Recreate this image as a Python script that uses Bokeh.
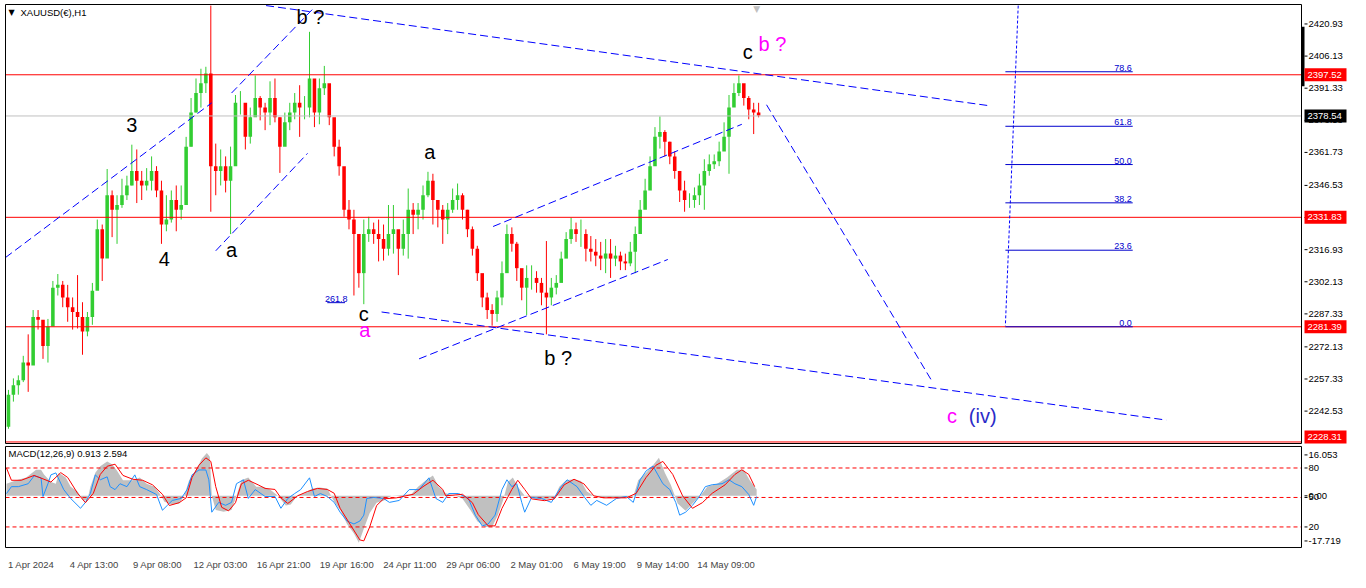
from bokeh.plotting import figure
from bokeh.layouts import column
from bokeh.models import Range1d, FixedTicker, Label, ColumnDataSource
from bokeh.embed import file_html
from bokeh.resources import INLINE
from bokeh.core.properties import value

FONT = "Liberation Sans"

# ---------------- data ----------------
symbol_title = "XAUUSD(€),H1"
macd_title = "MACD(12,26,9) 0.913 2.594"

bars_per_candle = 5          # each drawn candle groups 5 hourly bars
first_open = 2235.3
high = [2252.3, 2257.6, 2259.0, 2268.0, 2277.9, 2289.1, 2289.1, 2283.7, 2285.0, 2302.5,
        2305.7, 2302.5, 2300.7, 2294.9, 2305.2, 2292.7, 2288.2, 2301.6, 2330.8, 2328.5,
        2354.1, 2344.2, 2342.0, 2349.6, 2351.0, 2365.3, 2363.1, 2353.2, 2354.5, 2359.9,
        2355.4, 2348.7, 2342.0, 2344.2, 2346.5, 2346.5, 2368.9, 2386.8, 2395.8, 2400.3,
        2401.2, 2429.4, 2365.8, 2363.1, 2359.9, 2364.4, 2388.2, 2390.0, 2377.9, 2382.4,
        2397.2, 2387.7, 2384.6, 2394.5, 2395.8, 2377.9, 2380.1, 2384.6, 2389.1, 2392.7,
        2387.7, 2417.3, 2391.3, 2395.8, 2401.6, 2389.1, 2375.6, 2367.6, 2351.9, 2339.8,
        2335.3, 2316.0, 2330.8, 2332.1, 2329.4, 2330.8, 2328.5, 2337.5, 2337.5, 2325.0,
        2330.8, 2345.1, 2338.4, 2338.4, 2346.5, 2352.8, 2351.9, 2339.8, 2337.5, 2338.4,
        2345.1, 2347.4, 2342.9, 2335.3, 2327.6, 2318.7, 2302.5, 2297.1, 2291.8, 2298.0,
        2311.5, 2328.5, 2327.2, 2320.5, 2307.0, 2309.7, 2309.7, 2307.0, 2303.9, 2320.9,
        2303.9, 2305.2, 2316.0, 2325.0, 2331.7, 2329.4, 2330.8, 2326.3, 2323.2, 2321.8,
        2320.5, 2321.8, 2321.8, 2318.7, 2316.0, 2315.1, 2320.5, 2327.6, 2339.8, 2349.6,
        2359.9, 2373.4, 2378.3, 2372.0, 2366.7, 2362.2, 2353.2, 2348.7, 2342.9, 2345.6,
        2351.9, 2358.6, 2360.8, 2360.8, 2366.7, 2375.6, 2388.2, 2393.6, 2397.2, 2392.7,
        2387.7, 2384.6, 2384.6]
low = [2234.4, 2246.9, 2250.1, 2255.9, 2251.4, 2274.7, 2280.1, 2266.6, 2264.9, 2287.3,
       2295.8, 2290.4, 2283.7, 2280.1, 2280.6, 2268.5, 2277.0, 2282.3, 2314.2, 2302.5,
       2332.1, 2322.7, 2319.6, 2336.2, 2339.8, 2346.5, 2338.4, 2339.8, 2344.2, 2344.2,
       2341.1, 2319.6, 2325.4, 2329.4, 2325.4, 2330.8, 2337.5, 2364.4, 2380.1, 2382.4,
       2389.1, 2334.4, 2342.0, 2346.5, 2343.3, 2324.1, 2359.9, 2379.2, 2363.1, 2365.8,
       2380.1, 2376.5, 2372.0, 2374.3, 2375.6, 2352.3, 2365.8, 2372.0, 2377.0, 2368.9,
       2377.0, 2377.9, 2373.4, 2374.7, 2388.2, 2374.3, 2359.9, 2351.0, 2332.1, 2326.3,
       2295.8, 2299.4, 2291.8, 2320.5, 2319.6, 2311.5, 2311.9, 2314.2, 2315.1, 2305.2,
       2314.2, 2312.8, 2324.1, 2326.3, 2330.8, 2341.1, 2328.5, 2327.2, 2319.6, 2324.1,
       2333.9, 2335.3, 2330.8, 2322.7, 2314.2, 2302.5, 2290.4, 2285.0, 2281.9, 2283.7,
       2291.3, 2307.0, 2316.0, 2302.5, 2293.6, 2286.8, 2298.5, 2297.1, 2291.3, 2277.9,
       2291.3, 2296.3, 2306.1, 2316.0, 2319.6, 2320.5, 2318.2, 2311.5, 2311.5, 2309.3,
       2307.5, 2306.1, 2303.9, 2309.3, 2307.5, 2307.5, 2309.3, 2306.1, 2326.3, 2336.2,
       2347.4, 2356.3, 2363.5, 2359.9, 2356.3, 2349.6, 2338.9, 2334.4, 2336.2, 2336.2,
       2337.5, 2335.3, 2351.0, 2354.1, 2355.4, 2363.1, 2351.9, 2384.6, 2387.7, 2383.3,
       2377.0, 2370.2, 2377.9]
close = [2250.1, 2254.5, 2256.8, 2264.9, 2263.5, 2285.9, 2284.6, 2272.5, 2281.5, 2299.4,
         2300.7, 2294.9, 2290.4, 2288.2, 2285.9, 2279.2, 2285.9, 2298.0, 2326.3, 2312.8,
         2342.0, 2335.3, 2337.5, 2342.0, 2346.5, 2353.2, 2348.7, 2346.5, 2348.7, 2353.2,
         2344.2, 2328.5, 2330.8, 2339.8, 2335.3, 2337.5, 2364.4, 2380.1, 2389.1, 2393.6,
         2398.1, 2355.4, 2353.2, 2355.4, 2348.7, 2355.4, 2384.6, 2384.6, 2368.9, 2377.9,
         2386.8, 2382.4, 2380.1, 2386.8, 2377.9, 2364.4, 2375.6, 2380.1, 2384.6, 2382.4,
         2382.4, 2395.8, 2380.1, 2391.3, 2393.6, 2377.9, 2364.4, 2355.4, 2335.3, 2330.8,
         2324.1, 2306.1, 2324.1, 2326.3, 2324.1, 2321.8, 2317.3, 2324.1, 2326.3, 2317.3,
         2324.1, 2335.3, 2333.0, 2335.3, 2342.0, 2348.7, 2339.8, 2335.3, 2330.8, 2335.3,
         2339.8, 2342.0, 2335.3, 2326.3, 2317.3, 2306.1, 2294.9, 2289.1, 2287.3, 2294.9,
         2306.1, 2324.1, 2319.6, 2308.4, 2299.4, 2303.9, 2303.9, 2301.6, 2297.1, 2294.9,
         2299.4, 2301.6, 2312.8, 2321.8, 2326.3, 2324.1, 2324.1, 2317.3, 2316.0, 2314.2,
         2312.8, 2315.1, 2312.8, 2314.2, 2311.5, 2310.6, 2316.0, 2324.1, 2335.3, 2344.2,
         2355.4, 2368.9, 2371.1, 2366.7, 2359.9, 2353.2, 2344.2, 2339.8, 2339.8, 2342.0,
         2346.5, 2353.2, 2356.3, 2357.7, 2362.2, 2368.9, 2382.4, 2389.1, 2393.6, 2386.8,
         2381.5, 2380.1, 2378.8]

price_ticks = [2420.93, 2406.13, 2391.33, 2376.53, 2361.73, 2346.53, 2331.73,
               2316.93, 2302.13, 2287.33, 2272.13, 2257.33, 2242.53]
red_levels = [2397.52, 2331.83, 2281.39, 2228.31]
bid_price = 2378.54

# dashed trend lines (bar index, price)
trend_x0 = [-1, 228, 212, 263, 380, 418, 493, 770]
trend_y0 = [2313.3, 2389.1, 2316.4, 2429.4, 2288.2, 2266.6, 2327.6, 2383.7]
trend_x1 = [208, 312, 305, 995, 1175, 670, 745, 937]
trend_y1 = [2384.6, 2428.6, 2361.3, 2383.3, 2238.4, 2312.4, 2374.7, 2256.8]
# dotted near-vertical line
dot_x = [1025, 1012]
dot_y = [2429.4, 2281.9]

# fibonacci retracement
fib_low, fib_high = 2281.39, 2430.9
fib_ratios = [0.0, 23.6, 38.2, 50.0, 61.8, 78.6]
fib_x0, fib_x1 = 1012, 1141
ext_label, ext_x, ext_y = "261.8", 334, 2293.0

# Elliott wave labels
wave_text = ["3", "4", "b ?", "a", "a", "c", "a", "b ?", "c", "b ?", "c", "(iv)"]
wave_x = [127, 160, 308, 228, 429, 362, 363, 559, 751, 776, 958, 989]
wave_y = [2374.3, 2312.8, 2424.1, 2316.9, 2361.7, 2287.3, 2280.1, 2267.1, 2407.9, 2411.5, 2240.2, 2240.2]
wave_color = ["#000000", "#000000", "#000000", "#000000", "#000000", "#000000",
              "#FF00FF", "#000000", "#000000", "#FF00FF", "#FF00FF", "#2B2BC8"]

# time axis
date_pos = [0, 64, 128, 192, 256, 320, 384, 448, 512, 576, 640, 704]
date_labels = ["1 Apr 2024", "4 Apr 13:00", "9 Apr 08:00", "12 Apr 03:00", "16 Apr 21:00",
               "19 Apr 16:00", "24 Apr 11:00", "29 Apr 06:00", "2 May 01:00", "6 May 19:00",
               "9 May 14:00", "14 May 09:00"]

# MACD main (histogram)
hist_x = [0, 10, 20, 30, 35, 38, 45, 50, 53, 60, 65, 72, 78, 82, 85, 90, 95, 102, 107, 112,
          118, 128, 135, 142, 150, 155, 160, 167, 175, 180, 185, 192, 198, 203, 206, 208, 212, 220, 228, 233,
          238, 245, 253, 260, 267, 275, 283, 288, 295, 302, 310, 317, 325, 332, 338, 345, 352, 357, 362, 368,
          375, 382, 390, 400, 410, 417, 425, 432, 438, 445, 455, 462, 470, 477, 485, 492, 498, 503, 508, 513,
          518, 525, 535, 545, 555, 560, 567, 575, 582, 588, 595, 605, 620, 635, 640, 648, 655, 661, 667, 673,
          680, 688, 695, 703, 710, 720, 730, 740, 747, 753, 760]
hist_v = [4.7, 6.1, 7.2, 10.2, 10.2, 8.4, 5.4, 4.7, 9.1, 7.2, 3.6, 1.7, -1.9, -1.5, 3.6, 9.1, 11.6, 13.5, 12.4, 9.8,
          6.1, 6.1, 7.2, 4.7, 3.6, 1.0, -2.3, -3.4, -3.0, 0, 6.1, 10.2, 14.6, 16.8, 15.3, 0, -5.6, -6.3, -5.6, 0,
          6.1, 7.2, 3.6, 3.6, 2.5, 0, -3.8, -3.4, 0.3, 1.0, 2.9, 3.3, 2.9, -2.3, -5.6, -11.1, -14.8, -18.4, -12.9, -6.7,
          -2.7, -1.9, 0, 0.3, 0.6, 3.6, 6.1, 8.0, 3.6, 1.0, 0, -1.2, -5.6, -10.0, -12.2, -12.2, -7.4, -1.9, 5.4, 7.2,
          3.6, 0, -1.2, -1.5, -0.8, 3.6, 6.1, 6.5, 5.8, 1.7, 0, -0.8, -0.8, -0.4, 6.1, 9.1, 12.0, 14.9, 9.1, 4.3,
          -3.0, -5.9, -3.0, 0, 3.6, 4.7, 7.2, 10.2, 10.2, 6.1, 2.5]
# MACD signal
sig_x = [0, 5, 15, 28, 38, 45, 55, 62, 72, 80, 88, 95, 102, 110, 118, 128, 138, 148, 158, 165,
         175, 182, 188, 195, 202, 207, 212, 218, 225, 232, 238, 245, 255, 262, 272, 278, 285, 295, 305, 315,
         325, 332, 338, 348, 358, 362, 368, 375, 382, 395, 412, 422, 432, 442, 445, 462, 472, 478, 488, 495,
         502, 512, 518, 525, 532, 545, 555, 565, 575, 585, 595, 605, 628, 638, 648, 658, 665, 675, 685, 695,
         705, 715, 728, 738, 745, 752, 758]
sig_v = [10.9, 6.1, 6.1, 8.0, 6.5, 5.4, 9.1, 7.2, 1.0, -2.7, 1.0, 8.4, 11.6, 12.4, 8.0, 6.5, 6.1, 4.3, 0.6, -3.8,
         -2.7, -0.8, 7.2, 12.0, 14.9, 13.5, 3.6, -4.5, -5.9, -2.7, 4.7, 6.1, 4.3, 2.9, 2.5, -0.8, -3.0, 0, 1.7, 2.9,
         2.5, 1.0, -4.9, -11.1, -17.3, -17.7, -12.2, -3.8, -1.2, -0.8, 0.6, 3.6, 6.1, 2.5, 0, 0.6, -2.7, -7.4, -11.8, -11.8,
         -4.9, 2.5, 6.1, 2.5, -1.2, -1.9, -1.2, 4.3, 6.5, 4.7, 0, -0.8, -0.8, 1.0, 7.2, 12.0, 13.5, 8.4, 0, -4.9,
         -2.7, 1.0, 4.3, 8.4, 10.2, 8.4, 3.6]
# oscillator (0-100 scale) drawn in the same pane
osc_x = [0, 5, 12, 22, 28, 35, 37, 42, 45, 50, 58, 65, 75, 80, 85, 90, 95, 102, 105, 110,
         115, 122, 130, 135, 142, 152, 158, 163, 168, 177, 183, 188, 195, 202, 205, 208, 215, 222, 228, 233,
         240, 245, 252, 262, 272, 278, 285, 292, 298, 307, 312, 318, 325, 332, 338, 345, 352, 358, 362, 365,
         372, 382, 388, 398, 408, 418, 428, 435, 442, 448, 458, 468, 475, 482, 488, 495, 502, 507, 512, 517,
         522, 525, 532, 542, 552, 562, 568, 578, 585, 592, 598, 608, 618, 628, 635, 642, 648, 655, 660, 665,
         672, 678, 682, 688, 695, 702, 708, 715, 725, 732, 738, 745, 752, 757, 760]
osc_v = [54, 61, 61, 64, 72, 70, 51, 64, 73, 75, 58, 49, 39, 45, 54, 73, 68, 71, 61, 58,
         64, 61, 73, 61, 58, 53, 37, 42, 47, 49, 58, 73, 78, 78, 68, 35, 45, 42, 45, 64,
         68, 49, 58, 51, 51, 39, 49, 54, 58, 70, 51, 54, 51, 45, 35, 26, 23, 26, 32, 49,
         50, 49, 45, 47, 58, 58, 70, 49, 45, 54, 54, 49, 32, 21, 23, 32, 58, 68, 61, 64,
         45, 35, 50, 49, 45, 61, 68, 61, 51, 42, 47, 42, 49, 51, 45, 68, 77, 82, 73, 64,
         58, 45, 32, 35, 42, 51, 61, 63, 64, 68, 64, 61, 53, 42, 51]
osc_levels = [80, 50, 20]
macd_tick_vals = [16.053, 0.0, -17.719]

# ---------------- geometry ----------------
W = 1350
X0, X1 = -1, 1312                 # visible bar span of the chart area
P_LO, P_HI = 2227.6, 2429.9       # visible price span
M_LO, M_HI = -20.29, 19.36        # visible MACD span
O_LO, O_HI = -0.95, 101.9         # visible oscillator span
CHART_W = 1296                    # pixel width of the chart area
FRAME_W = W - 4                   # frames also hold the price scale
MAIN_FRAME_H = 441
MACD_FRAME_H = 105
bpp = (X1 - X0) / CHART_W
ppp = (P_HI - P_LO) / (MAIN_FRAME_H - 2)
mpp = (M_HI - M_LO) / (MACD_FRAME_H - 2)
opp = (O_HI - O_LO) / (MACD_FRAME_H - 2)

xr = Range1d(X0 - bpp, X0 - bpp + FRAME_W * bpp)


def frame_fig(height, yr, top, bottom, xloc):
    f = figure(width=W, height=height, x_range=xr, y_range=yr, output_backend="svg",
               toolbar_location=None, x_axis_location=xloc, y_axis_location=None,
               min_border_left=4, min_border_right=0, min_border_top=top, min_border_bottom=bottom)
    f.xgrid.visible = False
    f.ygrid.visible = False
    f.outline_line_color = None
    f.background_fill_color = "white"
    f.border_fill_color = "white"
    return f


def scale(f, lo, hi, ticks, labels):
    # chart border + right-hand value scale
    f.segment([X0, X0, X0, X1], [hi, lo, lo, lo], [X1, X1, X0, X1], [hi, lo, hi, hi],
              line_color="black", line_width=1)
    k = len(ticks)
    f.segment([X1 + 3 * bpp] * k, ticks, [X1 + 6 * bpp] * k, ticks, line_color="black", line_width=1)
    f.text([X1 + 7 * bpp] * k, ticks, text=labels, text_font=value(FONT), text_font_size="9.5px",
           text_color="black", text_align="left", text_baseline="middle")


main = frame_fig(444, Range1d(P_LO - ppp, P_HI + ppp), 3, 0, None)

# candles
n = len(close)
opens = [first_open] + close[:-1]
cx = [bars_per_candle * i + (bars_per_candle - 1) / 2 for i in range(n)]
colors = ["#32CD32" if c >= o else "#FF0000" for o, c in zip(opens, close)]
src = ColumnDataSource(dict(x=cx, hi=high, lo=low,
                            top=[max(o, c) for o, c in zip(opens, close)],
                            bot=[min(o, c) for o, c in zip(opens, close)],
                            color=colors))
main.segment("x", "hi", "x", "lo", line_color="color", line_width=1, source=src)
main.vbar(x="x", width=3.6, top="top", bottom="bot", fill_color="color", line_color=None, source=src)

# horizontal levels (chart area only)
main.segment([X0] * len(red_levels), red_levels, [X1] * len(red_levels), red_levels,
             line_color="#FF0000", line_width=1)
main.segment([X0], [bid_price], [X1], [bid_price], line_color="#C0C0C0", line_width=1)

# trend lines
main.segment(trend_x0, trend_y0, trend_x1, trend_y1, line_color="#0000FF", line_width=1, line_dash="8 4")
main.line(dot_x, dot_y, line_color="#0000FF", line_width=1, line_dash="3 2")

# fibonacci
fib_prices = [fib_low + r / 100.0 * (fib_high - fib_low) for r in fib_ratios]
main.segment([fib_x0] * len(fib_prices), fib_prices, [fib_x1] * len(fib_prices), fib_prices,
             line_color="#0000CD", line_width=1)
main.text([fib_x1 - 1] * len(fib_prices), fib_prices, text=[f"{r:.1f}" for r in fib_ratios],
          text_font=value(FONT), text_font_size="9px", text_color="#0000CD",
          text_align="right", text_baseline="bottom", y_offset=-1)
main.text([ext_x], [ext_y], text=[ext_label], text_font=value(FONT), text_font_size="9px",
          text_color="#0000CD", text_align="center", text_baseline="bottom")
main.segment([ext_x - 9], [ext_y - 0.5], [ext_x + 9], [ext_y - 0.5], line_color="#0000CD", line_width=1)

# wave labels
main.text(wave_x, wave_y, text=wave_text, text_color=wave_color, text_font=value(FONT),
          text_font_size="20px", text_align="center", text_baseline="middle")

# border + price scale
scale(main, P_LO, P_HI, price_ticks, [f"{t:.2f}" for t in price_ticks])
main.segment([X1 + 1.5 * bpp], [2419.6], [X1 + 1.5 * bpp], [2392.2], line_color="black", line_width=3)

box_prices = red_levels + [bid_price]
box_fill = ["#FF0000"] * len(red_levels) + ["#000000"]
box_lift_px = [0, 0, 0, 5, 0]     # keep the lowest box inside the pane
box_y = [v + d * ppp for v, d in zip(box_prices, box_lift_px)]
bsrc = ColumnDataSource(dict(x=[X1 + 24 * bpp] * len(box_prices), tx=[X1 + 6 * bpp] * len(box_prices),
                             y=box_y, fill=box_fill, label=[f"{v:.2f}" for v in box_prices]))
main.rect(x="x", y="y", width=42, height=13, width_units="screen", height_units="screen",
          fill_color="fill", line_color=None, source=bsrc)
main.text(x="tx", y="y", text="label", text_font=value(FONT), text_font_size="9.5px",
          text_color="white", text_align="left", text_baseline="middle", source=bsrc)

# titles / markers
TITLE_Y = MAIN_FRAME_H - 9
main.add_layout(Label(x=4, y=TITLE_Y, x_units="screen", y_units="screen", text="▼",
                      text_font="DejaVu Sans", text_font_size="8px", text_baseline="middle",
                      text_color="black"))
main.add_layout(Label(x=16, y=TITLE_Y, x_units="screen", y_units="screen", text=symbol_title,
                      text_font=FONT, text_font_size="9.5px", text_baseline="middle",
                      text_color="black"))
main.add_layout(Label(x=760, y=MAIN_FRAME_H - 5, x_units="data", y_units="screen", text="▼",
                      text_font="DejaVu Sans", text_font_size="9px", text_baseline="middle",
                      text_align="center", text_color="#C0C0C0"))

# ---------------- MACD pane ----------------
macd = frame_fig(128, Range1d(M_LO - mpp, M_HI + mpp), 1, 22, "below")
macd.extra_y_ranges = {"osc": Range1d(O_LO - opp, O_HI + opp)}

macd.varea(x=hist_x, y1=[0] * len(hist_x), y2=hist_v, fill_color="#C0C0C0")
for lv in osc_levels:
    macd.segment([X0], [lv], [X1], [lv], y_range_name="osc", line_color="#FF0000",
                 line_width=1, line_dash="4 3")
macd.line(osc_x, osc_v, y_range_name="osc", line_color="#1E90FF", line_width=1)
macd.line(sig_x, sig_v, line_color="#FF0000", line_width=1)


def osc_to_macd(v):
    return M_LO + (v - O_LO) / (O_HI - O_LO) * (M_HI - M_LO)


mt = [macd_tick_vals[0], osc_to_macd(80), macd_tick_vals[1], osc_to_macd(50), osc_to_macd(20), macd_tick_vals[2]]
ml = ["16.053", "80", "0.00", "50", "20", "-17.719"]
scale(macd, M_LO, M_HI, mt, ml)

shift = 25
dt = [d + shift for d in date_pos]
mx = macd.xaxis[0]
mx.ticker = FixedTicker(ticks=dt)
mx.major_label_overrides = {t: s for t, s in zip(dt, date_labels)}
mx.major_label_text_font = FONT
mx.major_label_text_font_size = "9.5px"
mx.major_tick_line_color = None
mx.minor_tick_line_color = None
mx.major_label_standoff = 4
mx.axis_line_color = None

macd.add_layout(Label(x=4, y=MACD_FRAME_H - 10, x_units="screen", y_units="screen", text=macd_title,
                      text_font=FONT, text_font_size="9.5px", text_baseline="middle",
                      text_color="black"))

layout = column(main, macd, spacing=0)
open("out.html", "w").write(file_html(layout, INLINE))
